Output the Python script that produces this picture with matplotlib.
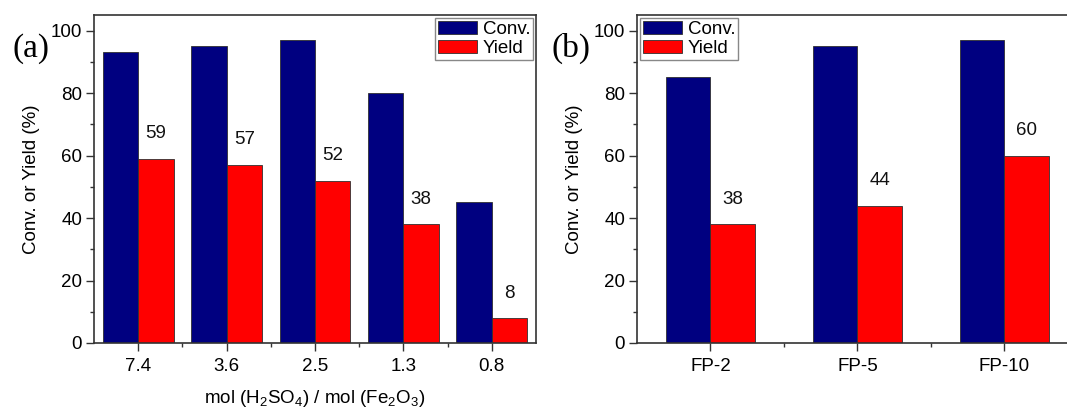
import matplotlib
matplotlib.use("Agg")
import matplotlib.pyplot as plt
import numpy as np
from matplotlib.ticker import MultipleLocator, FixedLocator

plt.rcParams['font.family'] = ['Liberation Sans', 'DejaVu Sans']
plt.rcParams['mathtext.default'] = 'regular'

# Panel (a): acid-to-oxide molar ratio
ratio_labels = ["7.4", "3.6", "2.5", "1.3", "0.8"]
conv_a = [93, 95, 97, 80, 45]
yield_a = [59, 57, 52, 38, 8]

# Panel (b): catalyst samples
sample_labels = ["FP-2", "FP-5", "FP-10"]
conv_b = [85, 95, 97]
yield_b = [38, 44, 60]

NAVY = "#000080"
RED = "#ff0000"
EDGE = "#303030"

fig = plt.figure(figsize=(10.67, 4.12), dpi=100)
ax_a = fig.add_axes([0.0881, 0.1675, 0.4142, 0.7961])
ax_b = fig.add_axes([0.5970, 0.1675, 0.4133, 0.7961])


def draw_panel(ax, cats, conv, yld, width, legend_loc, tag, tag_x):
    x = np.arange(len(cats))
    ax.bar(x - width / 2, conv, width, color=NAVY, edgecolor=EDGE,
           linewidth=0.6, label="Conv.")
    bars_y = ax.bar(x + width / 2, yld, width, color=RED, edgecolor=EDGE,
                    linewidth=0.6, label="Yield")
    for rect, v in zip(bars_y, yld):
        ax.annotate(f"{v}", (rect.get_x() + rect.get_width() / 2, v),
                    xytext=(0, 18), textcoords="offset points",
                    ha="center", va="center", fontsize=13.5, color="#111111")
    ax.set_xlim(-0.5, len(cats) - 0.5)
    ax.set_ylim(0, 105)
    ax.set_xticks(x)
    ax.set_xticklabels(cats)
    ax.xaxis.set_minor_locator(FixedLocator(np.arange(0.5, len(cats) - 0.5, 1)))
    ax.yaxis.set_major_locator(MultipleLocator(20))
    ax.yaxis.set_minor_locator(MultipleLocator(10))
    ax.tick_params(which="major", direction="out", length=6, width=1.0,
                   labelsize=13.5, color="#333333", pad=2.5)
    ax.tick_params(which="minor", direction="out", length=3, width=1.0,
                   color="#333333")
    ax.tick_params(axis="x", which="major", pad=5)
    for s in ax.spines.values():
        s.set_linewidth(1.2)
        s.set_color("#333333")
    ax.set_ylabel("Conv. or Yield (%)", fontsize=13.5, labelpad=8)
    leg = ax.legend(loc=legend_loc, fontsize=13.5, frameon=True, fancybox=False,
                    framealpha=1, edgecolor="#888888", borderpad=0.15,
                    labelspacing=0.1, handlelength=2.1, handleheight=0.7,
                    handletextpad=0.3, borderaxespad=0.15)
    leg.get_frame().set_linewidth(1.0)
    fig.text(tag_x, 0.883, tag, family=["Liberation Serif", "DejaVu Serif"],
             fontsize=24, ha="center", va="center")


draw_panel(ax_a, ratio_labels, conv_a, yield_a, 0.4, "upper right", "(a)", 0.029)
draw_panel(ax_b, sample_labels, conv_b, yield_b, 0.3, "upper left", "(b)", 0.535)
ax_a.set_xlabel(r"mol (H$_2$SO$_4$) / mol (Fe$_2$O$_3$)", fontsize=13.5, labelpad=9)

fig.savefig("out.png", dpi=100, facecolor="white")
